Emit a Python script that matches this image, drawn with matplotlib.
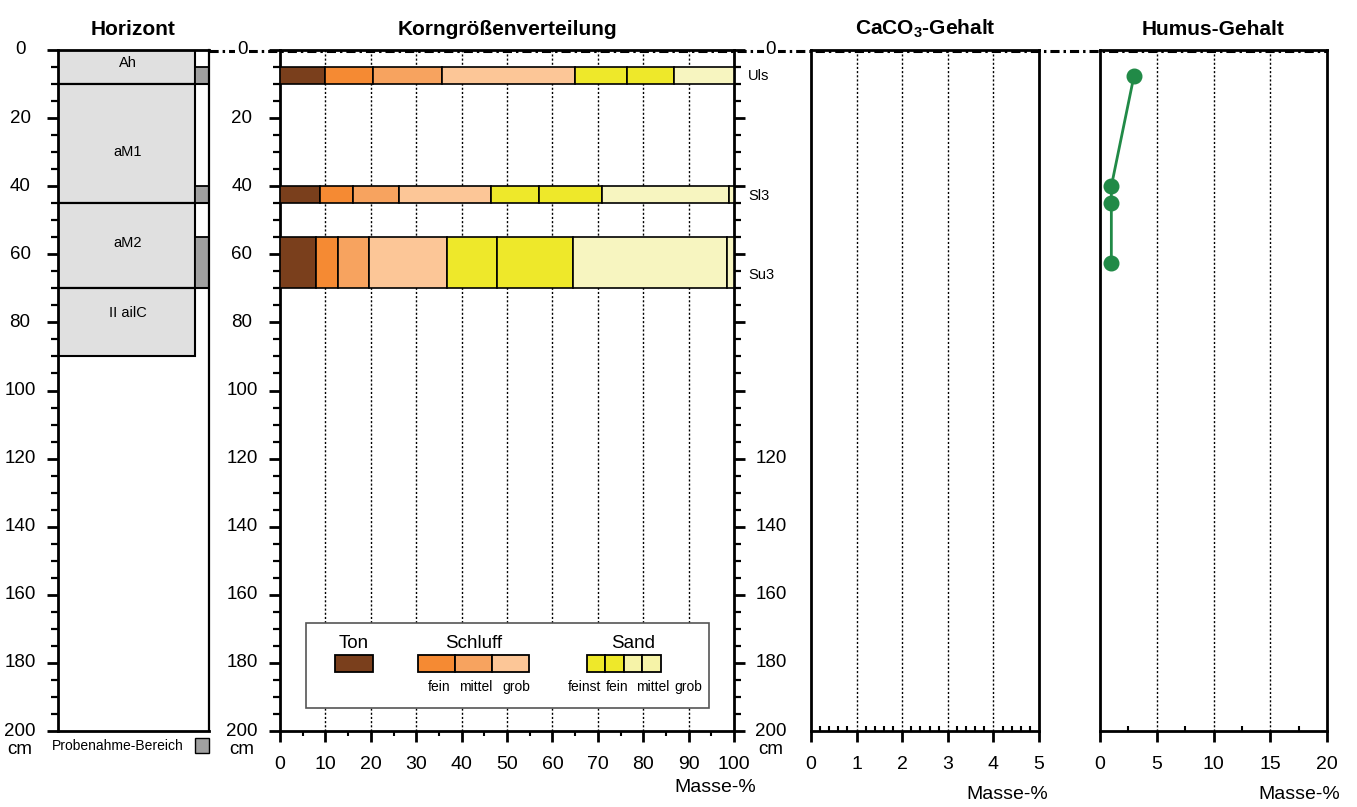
import matplotlib
matplotlib.use("Agg")
import matplotlib.pyplot as plt
from matplotlib.lines import Line2D
from matplotlib.patches import Rectangle
from matplotlib.transforms import blended_transform_factory
import numpy as np

# ---------------- data ----------------
horizon_names = ["Ah", "aM1", "aM2", "II ailC"]
horizon_top = [0, 10, 45, 70]
horizon_bottom = [10, 45, 70, 90]
horizon_label_depth = [3.9, 30, 56.7, 77.3]

sample_top = [5, 40, 55]
sample_bottom = [10, 45, 70]
soil_types = ["Uls", "Sl3", "Su3"]
soil_type_depth = [7.5, 42.8, 66]

ton = [10.0, 8.9, 7.9]
schluff_fein = [10.4, 7.1, 4.9]
schluff_mittel = [15.3, 10.3, 6.9]
schluff_grob = [29.2, 20.1, 17.0]
sand_feinst = [11.5, 10.6, 11.0]
sand_fein = [10.4, 14.0, 16.9]
sand_mittel = [13.2, 28.0, 33.9]
sand_grob = [0.0, 1.0, 1.5]

humus_depth = [7.5, 40, 45, 62.5]
humus_value = [3.0, 1.0, 1.0, 1.0]

depth_ticks = [0, 20, 40, 60, 80, 100, 120, 140, 160, 180, 200]
right_depth_labels = [0, 120, 140, 160, 180, 200]

# ---------------- style ----------------
plt.rcParams["font.family"] = ["Liberation Sans", "DejaVu Sans"]
plt.rcParams["mathtext.fontset"] = "custom"
plt.rcParams["mathtext.rm"] = "Liberation Sans"
plt.rcParams["mathtext.bf"] = "Liberation Sans:bold"

C_TON = "#7a3f1c"
C_FU = "#f58a33"
C_MU = "#f7a35f"
C_GU = "#fcc697"
C_FFS = "#eee82a"
C_FS = "#eee82a"
C_MS = "#f7f5c0"
C_GS = "#f7f5c0"
C_HOR = "#e0e0e0"
C_SAMPLE = "#a0a0a0"
C_HUMUS = "#218a47"

W, H = 1357, 807
fig = plt.figure(figsize=(W / 100, H / 100), dpi=100)
fig.patch.set_facecolor("white")


def add_px_axes(x0, x1, y0, y1):
    ax = fig.add_axes([x0 / W, 1 - y1 / H, (x1 - x0) / W, (y1 - y0) / H])
    ax.set_facecolor("none")
    for s in ax.spines.values():
        s.set_linewidth(2.0)
        s.set_color("black")
    ax.set_ylim(200, 0)
    return ax


Y_TOP, Y_BOT = 50, 731
ax1 = add_px_axes(58, 209, Y_TOP, Y_BOT)
ax2 = add_px_axes(280, 734, Y_TOP, Y_BOT)
ax3 = add_px_axes(811, 1039, Y_TOP, Y_BOT)
ax4 = add_px_axes(1100, 1327, Y_TOP, Y_BOT)

# dash-dot zero line joining the panels
yz = 1 - 50.6 / H
fig.add_artist(Line2D([209 / W, 1327 / W], [yz, yz], transform=fig.transFigure,
                      color="black", lw=2.2, ls=(0, (3, 1.3, 0.8, 1.3)), zorder=-1))

TICK_FS = 13.5
XT_FS = 14
TITLE_FS = 15


def depth_axis(ax, side, labels, xpos):
    ax.set_yticks(depth_ticks)
    ax.set_yticks(np.arange(0, 201, 5), minor=True)
    ax.tick_params(axis="y", which="major", length=8, width=2, direction="out",
                   left=(side == "left"), right=(side == "right"), labelleft=False,
                   labelright=False)
    ax.tick_params(axis="y", which="minor", length=5, width=1.6, direction="out",
                   left=(side == "left"), right=(side == "right"))
    tr = blended_transform_factory(ax.transAxes, ax.transData)
    for v in labels:
        ax.text(xpos, v, str(v), transform=tr, ha="center", va="center",
                fontsize=TICK_FS, clip_on=False,
                bbox=dict(facecolor="white", edgecolor="none", pad=1) if v == 0 else None)
    ax.text(xpos, 205.5, "cm", transform=tr, ha="center", va="center",
            fontsize=TICK_FS, clip_on=False)


def value_axis(ax, major, minor, minor_dir):
    ax.set_xticks(major)
    ax.set_xticks(minor, minor=True)
    ax.tick_params(axis="x", which="major", length=8, width=2, direction="out", pad=10,
                   labelsize=XT_FS)
    ax.tick_params(axis="x", which="minor", length=3.5, width=1.5, direction=minor_dir)


# ---------------- panel 1: horizons ----------------
ax1.set_xlim(0, 1)
box_r = (195 - 58) / (209 - 58)
for name, t, b, d in zip(horizon_names, horizon_top, horizon_bottom, horizon_label_depth):
    ax1.add_patch(Rectangle((0, t), box_r, b - t, facecolor=C_HOR, edgecolor="black",
                            lw=1.5, zorder=2))
    ax1.text(box_r / 2 + 0.01, d, name, ha="center", va="center", fontsize=10.5, zorder=3)
for t in horizon_top[1:]:
    ax1.plot([0, 1], [t, t], color="black", lw=1.5, zorder=3)
for t, b in zip(sample_top, sample_bottom):
    ax1.add_patch(Rectangle((box_r, t), 1 - box_r, b - t, facecolor=C_SAMPLE,
                            edgecolor="black", lw=1.3, zorder=2))
ax1.spines["right"].set_linewidth(1.6)
ax1.set_xticks([])
depth_axis(ax1, "left", depth_ticks, (20 - 58) / 151)
ax1.set_title("Horizont", fontsize=TITLE_FS, fontweight="bold", pad=11)
ax1.text(-0.04, 204.3, "Probenahme-Bereich",
         transform=blended_transform_factory(ax1.transAxes, ax1.transData),
         ha="left", va="center", fontsize=10, clip_on=False)
ax1.add_patch(Rectangle((box_r, 202), 1.0 - box_r, 4.4, facecolor=C_SAMPLE,
                        edgecolor="black", lw=1.0, clip_on=False))

# ---------------- panel 2: grain size ----------------
fractions = [ton, schluff_fein, schluff_mittel, schluff_grob,
             sand_feinst, sand_fein, sand_mittel, sand_grob]
colors = [C_TON, C_FU, C_MU, C_GU, C_FFS, C_FS, C_MS, C_GS]
ax2.set_xlim(0, 100)
left = np.zeros(len(sample_top))
tops = np.array(sample_top, float)
heights = np.array(sample_bottom, float) - tops
for vals, col in zip(fractions, colors):
    vals = np.array(vals, float)
    m = vals > 0
    ax2.barh(tops[m], vals[m], height=heights[m], left=left[m], align="edge",
             color=col, edgecolor="black", linewidth=1.2, zorder=3)
    left += vals
for x in range(10, 100, 10):
    ax2.axvline(x, color="black", lw=1, ls=(0, (1.5, 1.5)), zorder=1)
value_axis(ax2, np.arange(0, 101, 10), np.arange(0, 101, 5), "out")
depth_axis(ax2, "left", depth_ticks, (242 - 280) / 454)
# right-hand depth axis
ax2r = ax2.twinx()
ax2r.set_ylim(200, 0)
ax2r.set_facecolor("none")
for s in ax2r.spines.values():
    s.set_visible(False)
depth_axis(ax2r, "right", right_depth_labels, (771 - 280) / 454)
trr = blended_transform_factory(ax2.transAxes, ax2.transData)
for lab, d in zip(soil_types, soil_type_depth):
    ax2.text((748 - 280) / 454, d, lab, transform=trr, ha="left", va="center",
             fontsize=10.5, clip_on=False)
ax2.set_title("Korngrößenverteilung", fontsize=TITLE_FS, fontweight="bold", pad=11)
ax2.text(1.048, -0.083, "Masse-%", transform=ax2.transAxes, ha="right", va="center",
         fontsize=XT_FS, clip_on=False)

# legend
ax2.add_patch(Rectangle((5.7, 168.3), 88.8, 24.9, facecolor="white", edgecolor="#555555",
                        lw=1.2, zorder=5))
lg_box = dict(edgecolor="black", lw=1.3, zorder=6)
ax2.add_patch(Rectangle((12.1, 177.7), 8.4, 5.0, facecolor=C_TON, **lg_box))
for i, col in enumerate([C_FU, C_MU, C_GU]):
    ax2.add_patch(Rectangle((30.4 + i * 8.15, 177.7), 8.15, 5.0, facecolor=col, **lg_box))
for i, col in enumerate([C_FFS, C_FS, "#f6f3a8", "#f6f3a8"]):
    ax2.add_patch(Rectangle((67.6 + i * 4.07, 177.7), 4.07, 5.0, facecolor=col, **lg_box))
for txt, x in [("Ton", 16.3), ("Schluff", 42.6), ("Sand", 77.8)]:
    ax2.text(x, 174.3, txt, ha="center", va="center", fontsize=13.5, zorder=7)
for txt, x in [("fein", 35.0), ("mittel", 43.2), ("grob", 52.0),
               ("feinst", 67.0), ("fein", 74.2), ("mittel", 82.2), ("grob", 89.9)]:
    ax2.text(x, 187.0, txt, ha="center", va="center", fontsize=10, zorder=7)

# ---------------- panel 3: CaCO3 ----------------
ax3.set_xlim(0, 5)
for x in range(1, 5):
    ax3.axvline(x, color="black", lw=1, ls=(0, (1.5, 1.5)), zorder=1)
ax3.set_yticks([])
value_axis(ax3, np.arange(0, 6, 1), np.arange(0, 5.01, 0.2), "in")
ax3.set_title(r"CaCO$\mathbf{_{3}}$-Gehalt", fontsize=TITLE_FS, fontweight="bold", pad=11)
ax3.text(1.04, -0.093, "Masse-%", transform=ax3.transAxes, ha="right", va="center",
         fontsize=XT_FS, clip_on=False)

# ---------------- panel 4: humus ----------------
ax4.set_xlim(0, 20)
for x in (5, 10, 15):
    ax4.axvline(x, color="black", lw=1, ls=(0, (1.5, 1.5)), zorder=1)
ax4.plot(humus_value, humus_depth, color=C_HUMUS, lw=2, marker="o", markersize=10.5,
         zorder=4, clip_on=False)
ax4.set_yticks([])
value_axis(ax4, np.arange(0, 21, 5), np.arange(0, 20.01, 2.5), "in")
ax4.set_title("Humus-Gehalt", fontsize=TITLE_FS, fontweight="bold", pad=11)
ax4.text(1.06, -0.093, "Masse-%", transform=ax4.transAxes, ha="right", va="center",
         fontsize=XT_FS, clip_on=False)

fig.savefig("out.png", dpi=100, facecolor="white")
